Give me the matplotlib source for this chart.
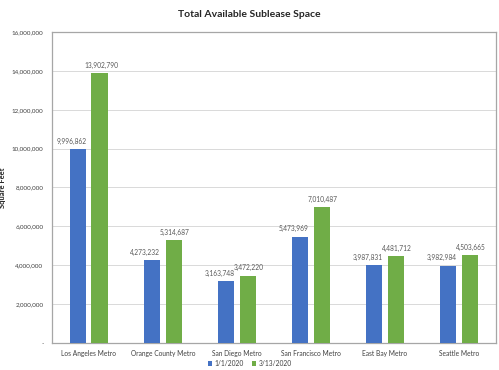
import matplotlib
matplotlib.use("Agg")
import matplotlib.pyplot as plt
import numpy as np
from matplotlib.ticker import FuncFormatter

categories = ["Los Angeles Metro", "Orange County Metro", "San Diego Metro",
              "San Francisco Metro", "East Bay Metro", "Seattle Metro"]
series_names = ["1/1/2020", "3/13/2020"]
values_jan = [9996862, 4273232, 3163748, 5473969, 3987831, 3982984]
values_mar = [13902790, 5314687, 3472220, 7010487, 4481712, 4503665]

plt.rcParams['font.family'] = ['Lato', 'DejaVu Sans']

fig = plt.figure(figsize=(4.99, 3.70), dpi=100)
ax = fig.add_axes([0.104, 0.073, 0.89, 0.8405])

x = np.arange(len(categories))
w = 0.22
off = 0.145
blue = "#4472C4"
green = "#70AD47"
b1 = ax.bar(x - off, values_jan, w, color=blue, label=series_names[0], zorder=3)
b2 = ax.bar(x + off, values_mar, w, color=green, label=series_names[1], zorder=3)

for bars, vals, dx in ((b1, values_jan, -5), (b2, values_mar, 1)):
    for rect, v in zip(bars, vals):
        ax.annotate(f"{v:,}", (rect.get_x() + rect.get_width() / 2, v),
                    xytext=(dx, 3), textcoords="offset points",
                    ha="center", va="bottom", fontsize=4.8, color="#595959")

ax.set_xlim(-0.5, len(categories) - 0.5)
ax.set_ylim(0, 16000000)
ax.set_yticks(np.arange(0, 16000001, 2000000))
ax.yaxis.set_major_formatter(FuncFormatter(lambda v, p: "-" if v == 0 else f"{int(v):,}"))
ax.set_xticks(x)
ax.set_xticklabels(categories)
ax.tick_params(axis="both", length=0, labelsize=4.8, colors="#404040")
ax.tick_params(axis="y", labelsize=4.5, pad=6)
ax.tick_params(axis="x", pad=5)
ax.grid(axis="y", color="#D9D9D9", linewidth=0.7, zorder=0)
for s in ax.spines.values():
    s.set_color("#A6A6A6")
    s.set_linewidth(0.9)

ax.set_ylabel("Square Feet", fontsize=5.5, fontweight="bold", color="#262626", labelpad=4)
fig.text(0.5, 0.962, "Total Available Sublease Space", ha="center", va="center",
         fontsize=7.5, fontweight="bold", color="#262626")

leg = fig.legend(handles=[b1, b2], labels=series_names, loc="center",
                 bbox_to_anchor=(0.5, 0.018), ncol=2, frameon=False, fontsize=4.8,
                 handlelength=0.6, handleheight=0.6, handletextpad=0.4, columnspacing=1.2)
for t in leg.get_texts():
    t.set_color("#404040")

fig.savefig("out.png", dpi=100)
